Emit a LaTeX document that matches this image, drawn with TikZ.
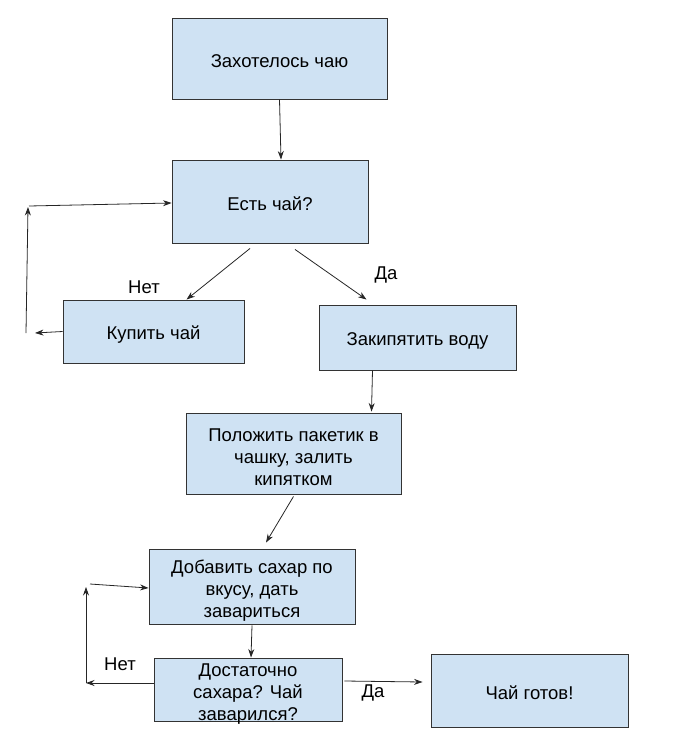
\documentclass[tikz,border=0pt]{standalone}
\usepackage{fontspec}
\setmainfont{Liberation Sans}
\usetikzlibrary{arrows.meta}
\definecolor{boxfill}{HTML}{CFE2F3}
\definecolor{boxline}{HTML}{333333}
\newcommand{\toppad}{\rule{0pt}{21pt}}
\tikzset{
  boxbase/.style={draw=boxline, fill=boxfill, line width=0.9pt, align=center, inner sep=2pt,
    font=\fontsize{18.5}{22}\selectfont},
  box/.style={boxbase, execute at begin node={\rule{0pt}{19pt}}},
  conn/.style={draw=black!85, line width=0.8pt, -{Stealth[length=8.5pt,width=6pt]}},
  lbl/.style={font=\fontsize{18.5}{22}\selectfont}
}
\begin{document}
\begin{tikzpicture}[x=1pt,y=-1pt]
\useasboundingbox (0,0) rectangle (674,731);
\node[box, minimum width=215pt, minimum height=81pt] (b1) at (279.5,58.5) {Захотелось чаю};
\node[box, minimum width=196pt, minimum height=83pt] (b2) at (270,201.5) {Есть чай?};
\node[box, minimum width=181pt, minimum height=63pt] (b3) at (153.5,331.5) {Купить чай};
\node[box, minimum width=197pt, minimum height=65pt] (b4) at (417.5,337.5) {Закипятить воду};
\node[boxbase, minimum width=215pt, minimum height=81pt] (b5) at (293.5,453.5) {\toppad Положить пакетик в\\чашку, залить\\кипятком};
\node[boxbase, minimum width=206pt, minimum height=75pt] (b6) at (252,586.5) {\toppad Добавить сахар по\\вкусу, дать\\завариться};
\node[boxbase, inner ysep=-4pt, minimum width=188pt, minimum height=63pt] (b7) at (248,689.5) {\toppad Достаточно\\сахара? Чай\\заварился?};
\node[box, minimum width=197pt, minimum height=73pt] (b8) at (529.5,690.5) {Чай готов!};

\node[lbl] (n1) at (144,287) {Нет};
\node[lbl] (d1) at (386,275) {Да};
\node[lbl] (n2) at (120,664) {Нет};
\node[lbl] (d2) at (373,693) {Да};

% free ends
\coordinate (l1) at (35,333);
\coordinate (l2) at (26,333);
\coordinate (l3) at (28,207);
\coordinate (l4) at (29,206);
\coordinate (m1) at (86,683);
\coordinate (m2) at (86,587);
\coordinate (m3) at (90,584);

\draw[conn] (b1.south) -- ([xshift=11pt]b2.north);
\draw[conn] ([xshift=-20pt,yshift=-5pt]b2.south) -- ([xshift=33pt]b3.north);
\draw[conn] ([xshift=25pt,yshift=-6pt]b2.south) -- ([xshift=-51pt,yshift=5pt]b4.north);
\draw[conn] (b3.west) -- (l1);
\draw[conn] (l2) -- (l3);
\draw[conn] (l4) -- ([yshift=-1.5pt]b2.west);
\draw[conn] ([xshift=-45pt]b4.south) -- ([xshift=78pt,yshift=1pt]b5.north);
\draw[conn] ([yshift=-2pt]b5.south) -- ([xshift=14pt,yshift=6pt]b6.north);
\draw[conn] ([yshift=-1pt]b6.south) -- ([xshift=3pt]b7.north);
\draw[conn] ([yshift=6.5pt]b7.west) -- (m1);
\draw[conn] (m1) -- (m2);
\draw[conn] (m3) -- ([yshift=-1.5pt]b6.west);
\draw[conn] ([xshift=2pt,yshift=8.5pt]b7.east) -- ([xshift=-8pt,yshift=8.5pt]b8.west);
\end{tikzpicture}
\end{document}
